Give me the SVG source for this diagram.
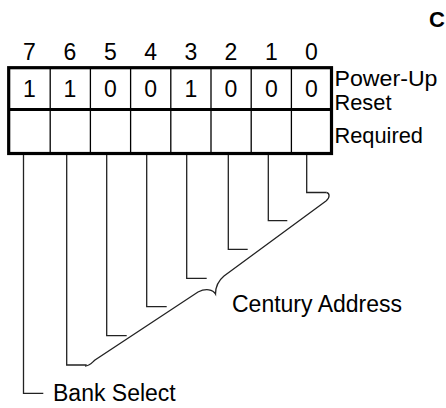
<svg xmlns="http://www.w3.org/2000/svg" width="446" height="408" viewBox="0 0 446 408">
<style>
text{font-family:"Liberation Sans",Arial,sans-serif;fill:#000}
.d{font-size:23px;text-anchor:middle}
.l{font-size:23px}
.r{font-size:21.8px}
.grid{fill:none;stroke:#000;stroke-width:1.3}
.frame{fill:none;stroke:#000;stroke-width:3.2}
.c{fill:none;stroke:#222;stroke-width:1.3}
</style>
<rect width="446" height="408" fill="#fff"/>
<g id="title"><text x="429" y="27" style="font-size:22px;font-weight:bold">C</text></g>
<g id="bit-numbers">
<text class="d" x="29.5" y="60">7</text>
<text class="d" x="70" y="60">6</text>
<text class="d" x="110.5" y="60">5</text>
<text class="d" x="150.7" y="60">4</text>
<text class="d" x="191" y="60">3</text>
<text class="d" x="231" y="60">2</text>
<text class="d" x="271.3" y="60">1</text>
<text class="d" x="311.5" y="60">0</text>
</g>
<g id="register">
<path class="grid" d="M50.2 67.7V153.5M90.4 67.7V153.5M130.6 67.7V153.5M170.8 67.7V153.5M211 67.7V153.5M251.2 67.7V153.5M291.4 67.7V153.5"/>
<rect class="frame" x="8.7" y="67.7" width="322.8" height="85.8"/>
<line class="frame" x1="8.7" y1="109.5" x2="331.5" y2="109.5"/>
<text class="d" x="29.5" y="96.5">1</text>
<text class="d" x="70" y="96.5">1</text>
<text class="d" x="110.5" y="96.5">0</text>
<text class="d" x="150.7" y="96.5">0</text>
<text class="d" x="191" y="96.5">1</text>
<text class="d" x="231" y="96.5">0</text>
<text class="d" x="271.3" y="96.5">0</text>
<text class="d" x="311.5" y="96.5">0</text>
</g>
<g id="row-labels">
<text class="r" x="334.5" y="85.5" textLength="103" lengthAdjust="spacingAndGlyphs">Power-Up</text>
<text class="r" x="334.5" y="110">Reset</text>
<text class="r" x="334.5" y="143">Required</text>
</g>
<g id="connectors">
<path class="c" d="M23.5 155V393.3H43.3"/>
<path class="c" d="M66.7 155V365H86.7"/>
<path class="c" d="M106.7 155V335.7H126.7"/>
<path class="c" d="M146.7 155V306.7H166.7"/>
<path class="c" d="M186.7 155V278.3H206.7"/>
<path class="c" d="M228.3 155V249.3H247.7"/>
<path class="c" d="M268.3 155V220.7H287.3"/>
<path class="c" d="M306.7 155V192.5H326.5"/>
<path class="c" d="M326.5 192.5C329.5 193 330.5 197.5 326 201L224 276C218 281 215.5 286 215.5 294C213 289.5 206 288 198 292L95 360C91.5 363 89.5 366 85 366"/>
</g>
<g id="labels">
<text class="l" x="232" y="312">Century Address</text>
<text class="l" x="53" y="401">Bank Select</text>
</g>
</svg>
